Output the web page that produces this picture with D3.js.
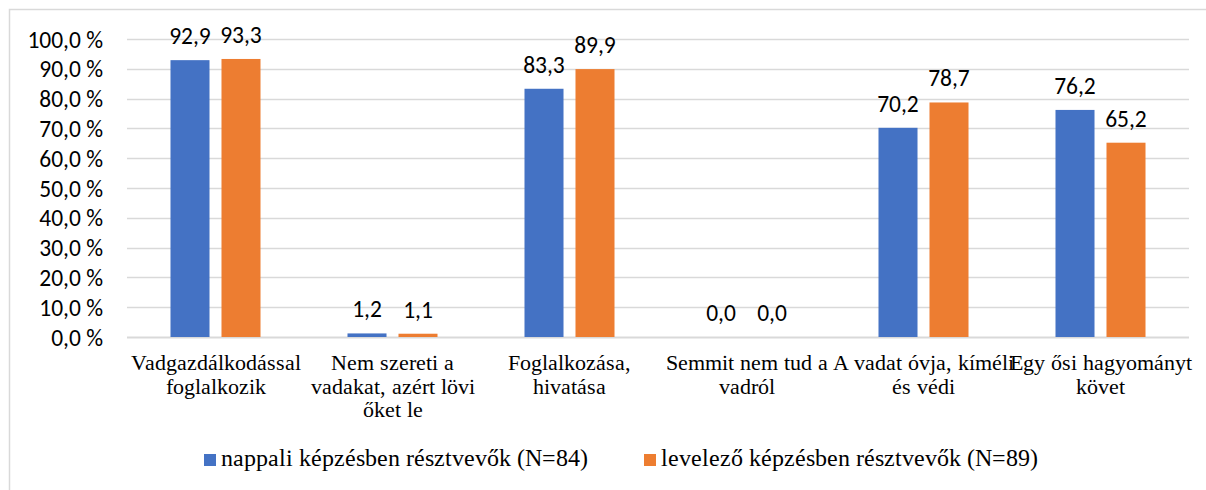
<!DOCTYPE html>
<html>
<head>
<meta charset="utf-8">
<script src="https://cdn.jsdelivr.net/npm/d3@7"></script>
<style>
  @font-face { font-family: "ChartSerif"; src: local("Liberation Serif"), local("LiberationSerif"), local("Tinos"); }
  @font-face { font-family: "ChartSans"; src: local("Carlito"), local("Lato"); }
  html, body { margin: 0; padding: 0; background: #fff; }
  svg { display: block; }
  .serif { font-family: "ChartSerif", "Liberation Serif", Tinos, serif !important; }
  .sans { font-family: "ChartSans", Carlito, Lato, sans-serif !important; }
</style>
</head>
<body>
<svg id="chart"></svg>
<script>
const categories = [
  'Vadgazdálkodással\nfoglalkozik',
  'Nem szereti a\nvadakat, azért lövi\nőket le',
  'Foglalkozása,\nhivatása',
  'Semmit nem tud a\nvadról',
  'A vadat óvja, kíméli\nés védi',
  'Egy ősi hagyományt\nkövet'
];
const seriesNames = ['nappali képzésben résztvevők (N=84)', 'levelező képzésben résztvevők (N=89)'];
const nappali = [92.9, 1.2, 83.3, 0.0, 70.2, 76.2];
const levelezo = [93.3, 1.1, 89.9, 0.0, 78.7, 65.2];
const yTicks = [0, 10, 20, 30, 40, 50, 60, 70, 80, 90, 100];
const colors = ['#4472C4', '#ED7D31'];

const W = 1206, H = 490;
const plot = { left: 127, right: 1189, top: 39, bottom: 337 };

const svg = d3.select('#chart').attr('width', W).attr('height', H);

// keret
svg.append('rect')
  .attr('x', 9.5).attr('y', 9.5)
  .attr('width', W).attr('height', H)
  .attr('fill', 'none')
  .attr('stroke', '#d9d9d9')
  .attr('stroke-width', 1.5);

const x0 = d3.scaleBand().domain(d3.range(categories.length)).range([plot.left, plot.right]);
const x1 = d3.scaleBand().domain([0, 1]).range([0, x0.bandwidth()])
  .paddingInner(0.235).paddingOuter(0.853);
const y = d3.scaleLinear().domain([0, 100]).range([plot.bottom, plot.top]);

const fmt = v => d3.format('.1f')(v).replace('.', ',');

// rácsvonalak
svg.append('g')
  .selectAll('line')
  .data(yTicks)
  .join('line')
  .attr('x1', plot.left).attr('x2', plot.right)
  .attr('y1', d => Math.round(y(d)) + 0.5).attr('y2', d => Math.round(y(d)) + 0.5)
  .attr('stroke', '#d9d9d9')
  .attr('stroke-width', d => d === 0 ? 2 : 1.5);

const yAxis = d3.axisLeft(y).tickValues(yTicks).tickSize(0).tickPadding(0)
  .tickFormat(d => fmt(d) + ' %');
svg.append('g')
  .attr('transform', 'translate(103,0)')
  .call(yAxis)
  .call(g => g.select('.domain').remove())
  .attr('font-family', null)
  .selectAll('text')
  .attr('class', 'sans')
  .attr('dy', '0.34em')
  .attr('fill', '#000')
  .style('font-size', '23.5px');

const data = categories.map((c, i) => ({ i, vals: [nappali[i], levelezo[i]] }));

const groups = svg.append('g')
  .selectAll('g')
  .data(data)
  .join('g')
  .attr('transform', d => `translate(${x0(d.i)},0)`);

groups.selectAll('rect')
  .data(d => d.vals.map((v, s) => ({ v, s })))
  .join('rect')
  .attr('x', d => x1(d.s))
  .attr('y', d => y(d.v))
  .attr('width', x1.bandwidth())
  .attr('height', d => y(0) - y(d.v))
  .attr('fill', d => colors[d.s]);

groups.selectAll('text.bar-label')
  .data(d => d.vals.map((v, s) => ({ v, s })))
  .join('text')
  .attr('class', 'bar-label sans')
  .attr('x', d => x1(d.s) + x1.bandwidth() / 2)
  .attr('y', d => y(d.v) - 16)
  .attr('text-anchor', 'middle')
  .style('font-size', '23.5px')
  .text(d => fmt(d.v));

// kategória feliratok
groups.append('text')
  .attr('class', 'serif')
  .attr('x', x0.bandwidth() / 2)
  .attr('y', 370)
  .attr('text-anchor', 'middle')
  .style('font-size', '22px')
  .selectAll('tspan')
  .data(d => categories[d.i].split('\n'))
  .join('tspan')
  .attr('class', 'serif')
  .attr('x', x0.bandwidth() / 2)
  .attr('dy', (d, i) => i === 0 ? 0 : 23.5)
  .text(d => d);

// jelmagyarázat
const legendX = [204, 644];
const legend = svg.append('g')
  .selectAll('g')
  .data(seriesNames)
  .join('g')
  .attr('transform', (d, i) => `translate(${legendX[i]},454)`);
legend.append('rect')
  .attr('width', 12).attr('height', 12)
  .attr('fill', (d, i) => colors[i]);
legend.append('text')
  .attr('class', 'serif')
  .attr('x', 17).attr('y', 12)
  .style('font-size', '24px')
  .text(d => d);
</script>
</body>
</html>
